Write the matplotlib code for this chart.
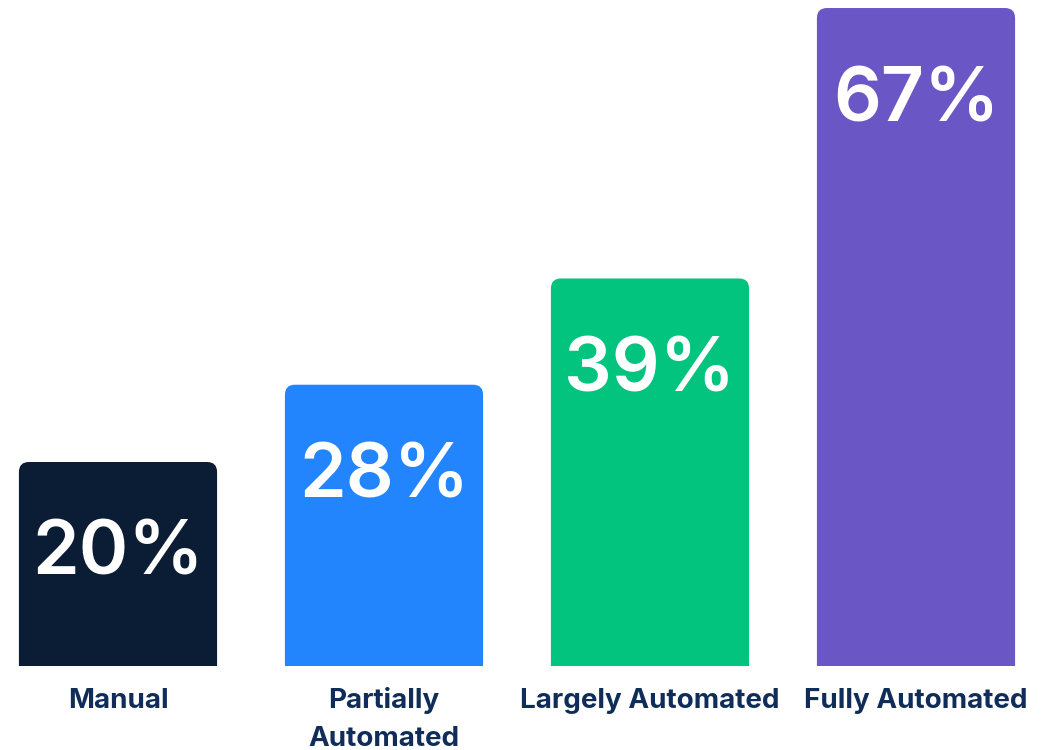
import matplotlib
matplotlib.use("Agg")
import matplotlib.pyplot as plt
from matplotlib.patches import FancyBboxPatch

plt.rcParams['font.family'] = ['Inter', 'DejaVu Sans']

categories = ['Manual', 'Partially\nAutomated', 'Largely Automated', 'Fully Automated']
values = [20, 28, 39, 67]
colors = ['#0a1d35', '#2285fd', '#03c47f', '#6b56c6']
label_color = '#0f2d58'

base = -1.12          # baseline sits a little below zero
top = 67.83
bar_w = 0.745

fig = plt.figure(figsize=(10.48, 7.5), dpi=100)
ax = fig.add_axes([0, 1 - 666 / 750, 1, 666 / 750])
ax.set_xlim(-118 / 266, (1048 - 118) / 266)
ax.set_ylim(base, top)
ax.axis('off')

# px per data unit, used to keep the corner radius round
px_x = 1048 / (ax.get_xlim()[1] - ax.get_xlim()[0])
px_y = 666 / (top - base)
aspect = px_x / px_y
r = 10 / px_x

for i, (v, c) in enumerate(zip(values, colors)):
    y0 = base - 3
    box = FancyBboxPatch((i - bar_w / 2, y0), bar_w, v - y0,
                         boxstyle=f"round,pad=0,rounding_size={r}",
                         mutation_aspect=aspect, fc=c, ec='none')
    ax.add_patch(box)
    ax.annotate(f'{v}%', xy=(i, v), xytext=(0, -113 * 0.72),
                textcoords='offset points', ha='center', va='baseline',
                fontsize=54, color='white', fontweight='semibold')

# category names under the bars, one line at a time
for i, lab in enumerate(categories):
    for j, line in enumerate(lab.split('\n')):
        ax.annotate(line, xy=(i, base), xytext=(0, -(42 + 38 * j) * 0.72),
                    textcoords='offset points', ha='center', va='baseline',
                    fontsize=20, color=label_color, fontweight='bold',
                    annotation_clip=False)

fig.savefig('out.png', dpi=100, facecolor='white')
